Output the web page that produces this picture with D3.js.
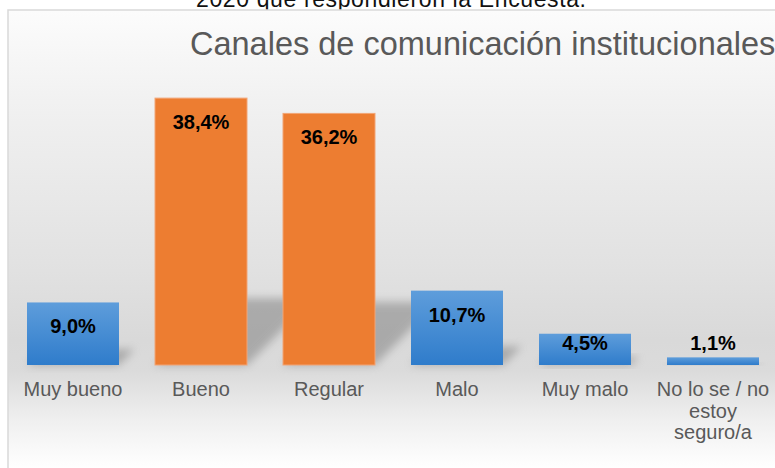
<!DOCTYPE html>
<html>
<head>
<meta charset="utf-8">
<script src="https://cdn.jsdelivr.net/npm/d3@7"></script>
<style>
  body { margin: 0; background: #fff; }
  svg { display: block; font-family: "Liberation Sans", Arial, sans-serif; }
</style>
</head>
<body>
<svg width="775" height="468"></svg>
<script>
// data
var categories = ["Muy bueno", "Bueno", "Regular", "Malo", "Muy malo", "No lo se / no\nestoy\nseguro/a"];
var values = [9.0, 38.4, 36.2, 10.7, 4.5, 1.1];
var highlighted = ["Bueno", "Regular"];
var title = "Canales de comunicación institucionales";
var caption = "2020 que respondieron la Encuesta.";

var svg = d3.select("svg");
var defs = svg.append("defs");

var bg = defs.append("linearGradient").attr("id", "bg")
    .attr("gradientUnits", "userSpaceOnUse")
    .attr("x1", 0).attr("y1", 10).attr("x2", 0).attr("y2", 468);
[[0, "#fcfcfc"], [0.2, "#f1f1f1"], [0.55, "#e2e2e2"], [0.72, "#d9d9d9"],
 [0.79, "#dbdbdb"], [0.9, "#f0f0f0"], [1, "#ffffff"]].forEach(function(s) {
    bg.append("stop").attr("offset", s[0]).attr("stop-color", s[1]);
});

var blue = defs.append("linearGradient").attr("id", "blue")
    .attr("x1", 0).attr("y1", 0).attr("x2", 0).attr("y2", 1);
blue.append("stop").attr("offset", 0).attr("stop-color", "#5e9ddb");
blue.append("stop").attr("offset", 1).attr("stop-color", "#2f7ccb");

defs.append("filter").attr("id", "blur")
    .attr("x", "-50%").attr("y", "-50%").attr("width", "200%").attr("height", "200%")
    .append("feGaussianBlur").attr("stdDeviation", 4);

// caption line, cut at the top of the picture like in the source
svg.append("text")
    .attr("x", 196).attr("y", 7)
    .attr("font-size", 23)
    .attr("textLength", 390)
    .attr("fill", "#111")
    .text(caption);

// chart area
svg.append("rect")
    .attr("x", 8).attr("y", 10)
    .attr("width", 780).attr("height", 470)
    .attr("fill", "url(#bg)")
    .attr("stroke", "#d9d9d9")
    .attr("stroke-width", 1.5);

svg.append("text")
    .attr("x", 190).attr("y", 55)
    .attr("font-size", 32.5)
    .attr("fill", "#595959")
    .text(title);

var x = d3.scaleBand()
    .domain(categories)
    .range([9, 777])
    .paddingInner(0.28125)
    .paddingOuter(0.140625);

var y = d3.scaleLinear()
    .domain([0, 40])
    .range([365, 87]);

var data = categories.map(function(c, i) { return {cat: c, v: values[i]}; });

// perspective shadows
svg.append("g").selectAll("polygon")
    .data(data)
  .enter().append("polygon")
    .attr("points", function(d) {
        var x0 = x(d.cat), x1 = x0 + x.bandwidth(), b = y(0);
        var s = (y(0) - y(d.v)) * 0.25;
        return [[x0, b], [x1, b], [x1 + s, b - s], [x0 + s, b - s]].join(" ");
    })
    .attr("fill", "#8a8a8a")
    .attr("opacity", 0.6)
    .attr("filter", "url(#blur)");

// bars
svg.append("g").selectAll("rect")
    .data(data)
  .enter().append("rect")
    .attr("x", function(d) { return x(d.cat); })
    .attr("y", function(d) { return y(d.v); })
    .attr("width", x.bandwidth())
    .attr("height", function(d) { return y(0) - y(d.v); })
    .attr("fill", function(d) { return highlighted.indexOf(d.cat) >= 0 ? "#ed7d31" : "url(#blue)"; })
    .attr("stroke", function(d) { return highlighted.indexOf(d.cat) >= 0 ? "#f2a576" : "none"; })
    .attr("stroke-width", 1);

// value labels
svg.append("g").selectAll("text")
    .data(data)
  .enter().append("text")
    .attr("x", function(d) { return x(d.cat) + x.bandwidth() / 2; })
    .attr("y", function(d) { return Math.min(y(d.v) + 31, y(0) - 15); })
    .attr("text-anchor", "middle")
    .attr("font-size", 20)
    .attr("font-weight", "bold")
    .attr("fill", "#000")
    .text(function(d) { return d.v.toFixed(1).replace(".", ",") + "%"; });

// category labels
var cats = svg.append("g").selectAll("text")
    .data(categories)
  .enter().append("text")
    .attr("x", function(d) { return x(d) + x.bandwidth() / 2; })
    .attr("y", 396)
    .attr("text-anchor", "middle")
    .attr("font-size", 20)
    .attr("fill", "#595959");

cats.selectAll("tspan")
    .data(function(d) { return d.split("\n"); })
  .enter().append("tspan")
    .attr("x", function() { return d3.select(this.parentNode).attr("x"); })
    .attr("dy", function(d, i) { return i ? 21.5 : 0; })
    .text(function(d) { return d; });
</script>
</body>
</html>
